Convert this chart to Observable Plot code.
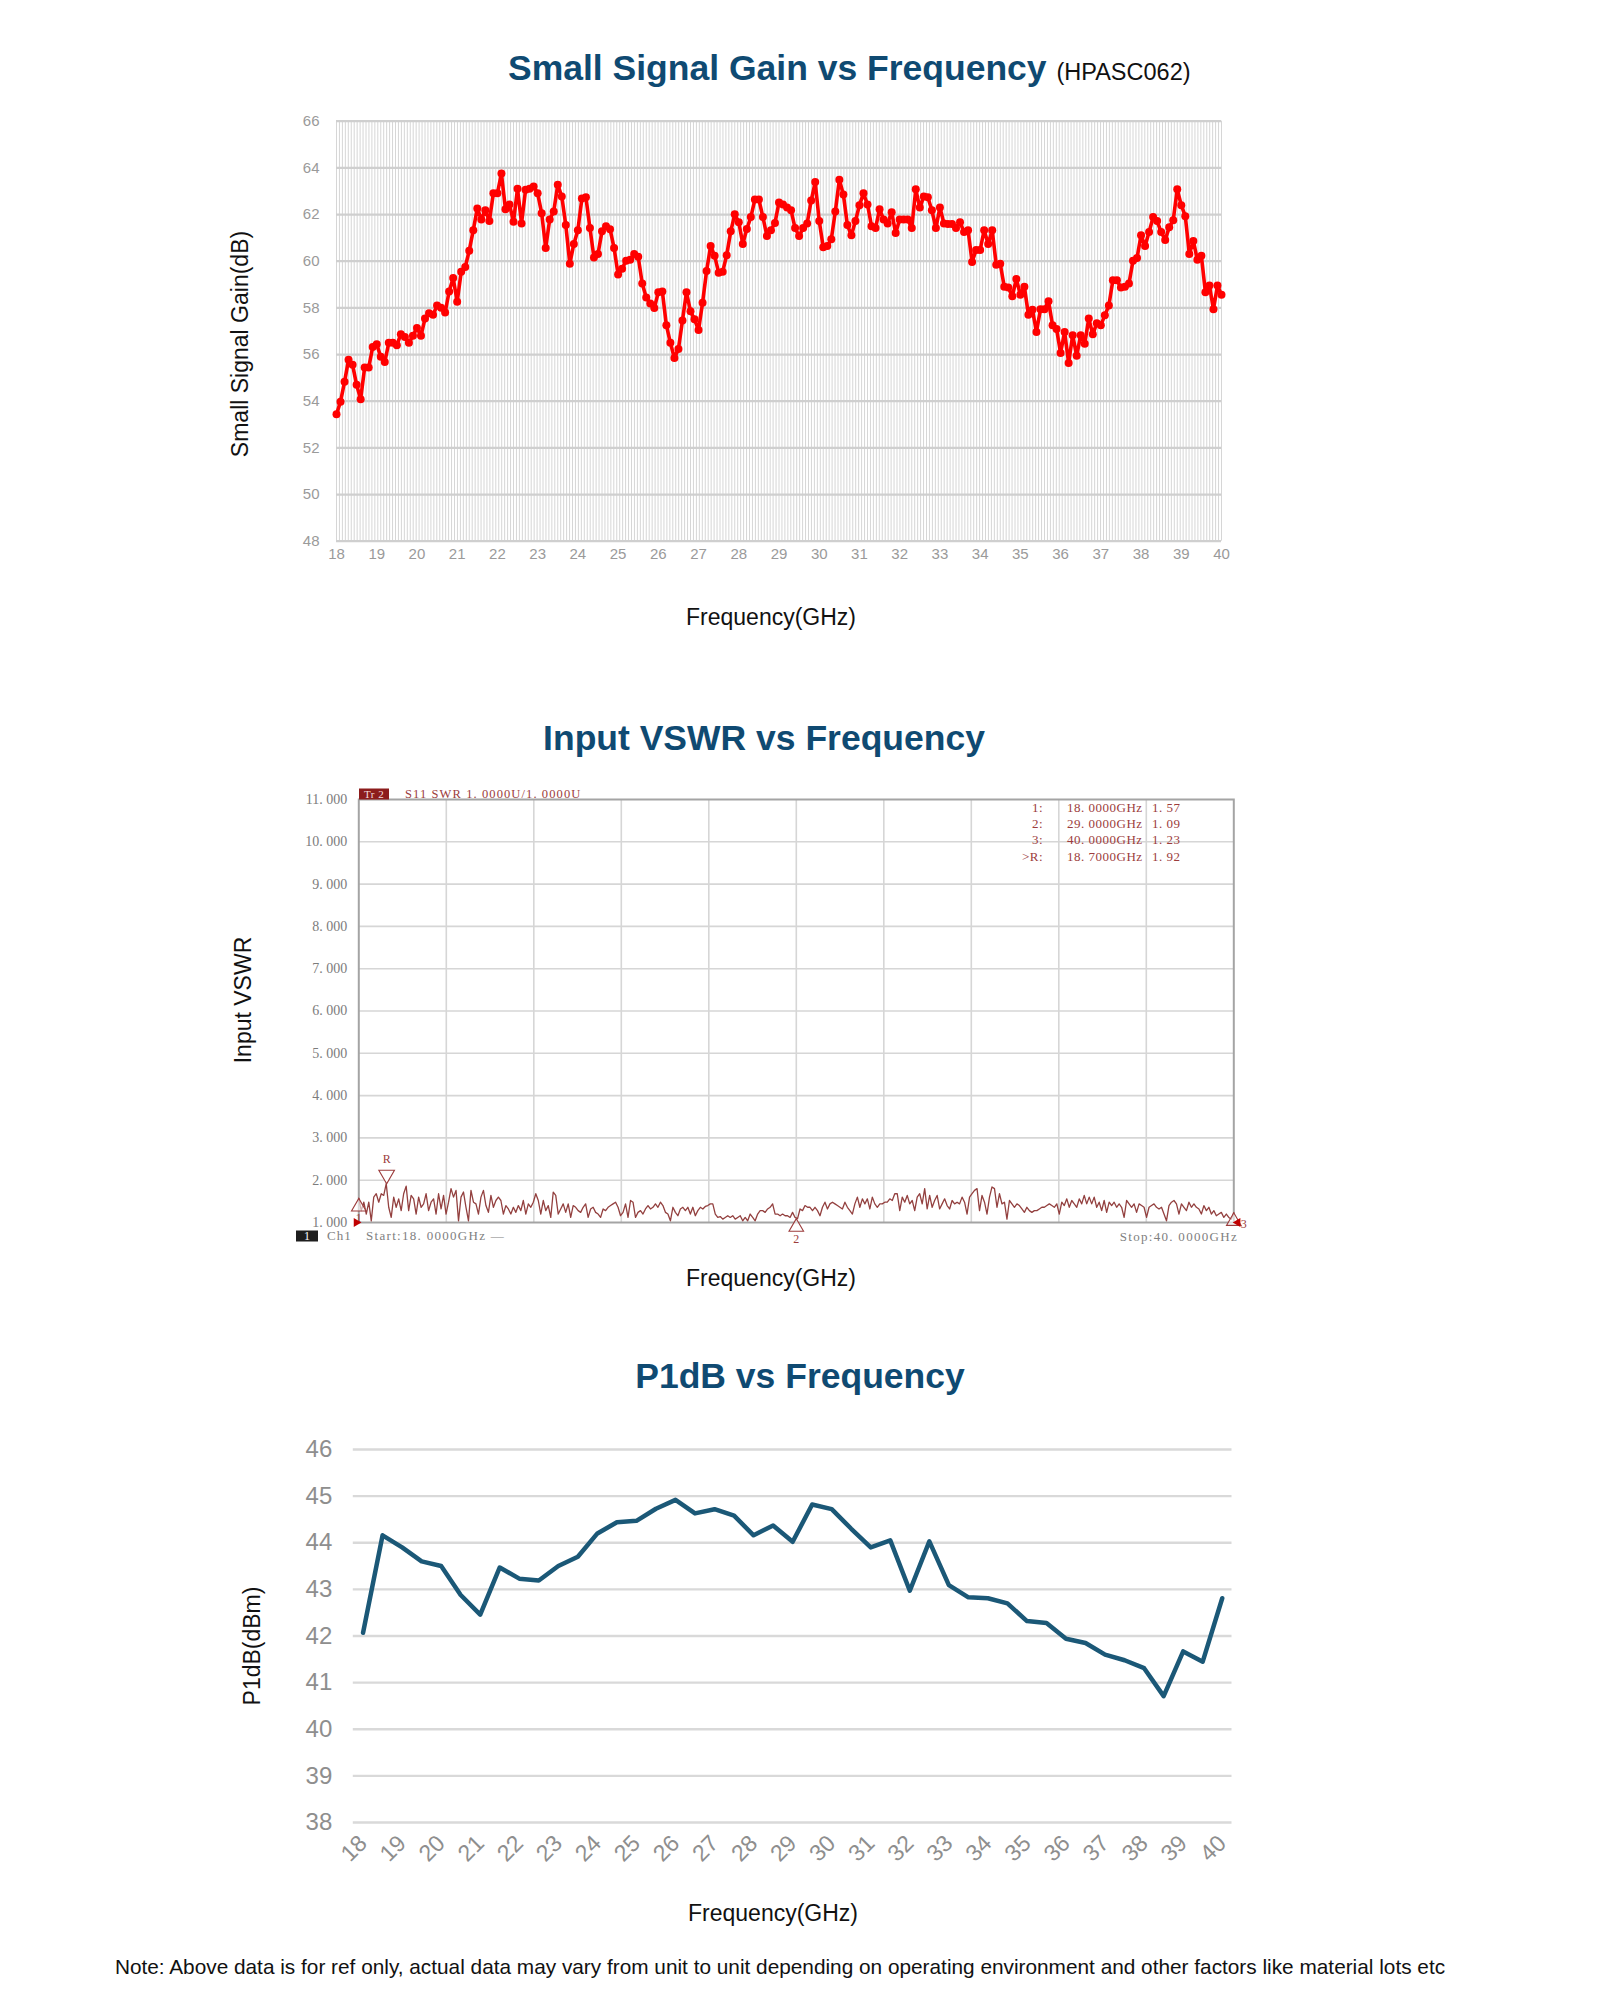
<!DOCTYPE html>
<html>
<head>
<meta charset="utf-8">
<script src="https://cdn.jsdelivr.net/npm/d3@7"></script>
<script src="https://cdn.jsdelivr.net/npm/@observablehq/plot@0.6"></script>
<style>
  body { margin: 0; background: #fff; }
  #page { position: relative; width: 1600px; height: 2000px; overflow: hidden; font-family: "Liberation Sans", Arial, sans-serif; background: #fff; }
  #page svg { position: absolute; left: 0; }
  .t { position: absolute; white-space: pre; line-height: 1.15; }
  .title { font-weight: bold; font-size: 35.5px; color: #0f4a72; }
  .axlab { font-size: 23px; color: #111; }
  .inst { font-family: "Liberation Serif", "DejaVu Serif", serif; font-size: 13px; letter-spacing: 0.5px; }
</style>
</head>
<body>
<div id="page"></div>
<script>
// ---------------- DATA ----------------
// Small signal gain (dB), sweep 18 -> 40 GHz in 0.1 GHz steps
const gainStartGHz = 18;
const gainStepGHz = 0.1;
const gainDb = [
  53.44,53.98,54.83,55.78,55.56,54.70,54.08,55.44,55.44,56.32,
  56.44,55.90,55.68,56.50,56.50,56.40,56.87,56.75,56.50,56.80,
  57.14,56.80,57.54,57.77,57.70,58.10,58.00,57.80,58.70,59.28,
  58.26,59.55,59.75,60.45,61.33,62.26,61.79,62.18,61.72,62.91,
  62.91,63.76,62.23,62.43,61.69,63.11,61.62,63.06,63.11,63.20,
  62.91,62.06,60.57,61.79,62.13,63.28,62.77,61.55,59.89,60.74,
  61.33,62.69,62.74,61.42,60.16,60.31,61.28,61.50,61.37,60.57,
  59.43,59.68,60.02,60.06,60.31,60.19,59.04,58.44,58.19,57.99,
  58.67,58.70,57.26,56.50,55.85,56.24,57.46,58.67,57.85,57.51,
  57.05,58.22,59.58,60.65,60.23,59.51,59.55,60.26,61.28,62.01,
  61.67,60.74,61.38,61.89,62.64,62.64,61.89,61.08,61.33,61.64,
  62.52,62.43,62.30,62.18,61.42,61.08,61.42,61.62,62.60,63.39,
  61.72,60.60,60.65,60.94,62.13,63.49,62.86,61.55,61.11,61.72,
  62.40,62.91,62.43,61.50,61.42,62.23,61.79,61.62,62.10,61.21,
  61.79,61.79,61.79,61.42,63.08,62.30,62.77,62.74,62.18,61.42,
  62.30,61.62,61.59,61.59,61.42,61.67,61.25,61.33,59.97,60.48,
  60.48,61.33,60.74,61.33,59.85,59.89,58.90,58.87,58.50,59.24,
  58.56,58.90,57.71,57.92,56.97,57.94,57.94,58.28,57.26,57.09,
  56.07,56.97,55.64,56.83,55.95,56.83,56.46,57.54,56.87,57.34,
  57.26,57.68,58.10,59.18,59.18,58.87,58.90,59.04,60.02,60.14,
  61.11,60.65,61.25,61.89,61.72,61.25,60.91,61.45,61.76,63.08,
  62.40,61.93,60.31,60.87,60.06,60.23,58.67,58.96,57.94,58.96,
  58.56
];
const gainTicksX = [18,19,20,21,22,23,24,25,26,27,28,29,30,31,32,33,34,35,36,37,38,39,40];
const gainTicksY = [48,50,52,54,56,58,60,62,64,66];

// Input VSWR trace, linear sweep start/stop
const vswrStartGHz = 18;
const vswrStopGHz = 40;
const vswr = [
  1.57,1.28,1.48,1.20,1.48,1.04,1.60,1.68,1.48,1.68,
  1.64,1.92,1.36,1.12,1.60,1.36,1.56,1.28,1.68,1.86,
  1.28,1.64,1.56,1.20,1.60,1.36,1.44,1.68,1.28,1.48,
  1.56,1.20,1.68,1.32,1.64,1.20,1.48,1.80,1.60,1.76,
  1.04,1.60,1.72,1.36,1.04,1.76,1.48,1.44,1.20,1.60,
  1.76,1.40,1.24,1.64,1.36,1.52,1.60,1.52,1.20,1.40,
  1.32,1.20,1.36,1.24,1.40,1.28,1.52,1.20,1.44,1.36,
  1.48,1.68,1.52,1.20,1.52,1.28,1.40,1.12,1.72,1.64,
  1.20,1.32,1.44,1.24,1.44,1.12,1.40,1.36,1.28,1.24,
  1.36,1.44,1.12,1.32,1.36,1.24,1.20,1.12,1.32,1.28,
  1.36,1.40,1.44,1.48,1.36,1.16,1.24,1.44,1.12,1.52,
  1.48,1.12,1.24,1.28,1.20,1.32,1.40,1.32,1.36,
  1.44,1.36,1.48,1.40,1.24,1.20,1.04,1.36,1.24,1.16,
  1.32,1.36,1.28,1.36,1.20,1.36,1.16,1.28,1.36,1.32,
  1.38,1.40,1.44,1.44,1.20,1.12,1.14,1.08,1.12,1.16,
  1.12,1.16,1.08,1.12,1.16,1.04,1.12,1.04,1.20,1.12,
  1.04,1.20,1.28,1.28,1.24,1.32,1.36,1.44,1.20,1.20,
  1.16,1.20,1.16,1.16,1.12,1.24,1.12,1.09,
  1.32,1.28,1.40,1.36,1.36,1.28,1.36,1.28,1.16,1.36,
  1.48,1.32,1.44,1.48,1.44,1.40,1.36,1.32,1.48,1.36,
  1.28,1.20,1.44,1.60,1.36,1.56,1.44,1.56,1.32,1.60,
  1.44,1.36,1.44,1.44,1.48,1.48,1.56,1.52,1.68,1.68,
  1.28,1.60,1.48,1.64,1.44,1.52,1.28,1.60,1.68,1.44,
  1.80,1.32,1.64,1.36,1.52,1.64,1.32,1.44,1.56,1.40,
  1.32,
  1.52,1.44,1.48,1.44,1.60,1.48,1.20,1.60,1.68,1.76,
  1.80,1.28,1.64,1.48,1.20,1.60,1.84,1.80,1.36,1.68,
  1.44,1.48,1.08,1.52,1.44,1.36,1.44,1.40,1.32,1.24,
  1.36,1.28,1.24,1.28,1.28,1.32,1.36,1.36,1.40,1.44,
  1.40,1.36,1.44,1.20,1.48,1.40,1.56,1.36,1.52,1.44,
  1.36,1.56,1.44,1.64,1.44,1.60,1.44,1.60,1.36,1.48,
  1.28,1.52,1.24,1.48,1.40,1.48,1.36,1.44,1.36,1.12,
  1.52,1.44,1.36,1.44,1.24,1.44,1.40,1.36,1.12,1.36,
  1.40,1.44,1.36,1.32,1.36,1.20,1.04,1.40,1.48,1.52,
  1.44,1.20,1.44,1.36,1.28,1.48,1.36,1.44,1.36,1.32,
  1.20,1.40,1.28,1.36,1.20,1.28,1.16,1.20,1.24,1.12,
  1.20,1.12,1.08,1.23
];
const vswrMarkerIds = ["1", "2", "3", "R"];
const vswrMarkerGHz = [18.0, 29.0, 40.0, 18.7];
const vswrMarkerVal = [1.57, 1.09, 1.23, 1.92];
const vswrTicksY = [1,2,3,4,5,6,7,8,9,10,11];
const vswrDivisions = 10;
const vswrRefLevel = 1;

// P1dB (dBm) every 0.5 GHz
const p1dbGHz = [18,18.5,19,19.5,20,20.5,21,21.5,22,22.5,23,23.5,24,24.5,25,25.5,26,26.5,27,27.5,28,28.5,29,29.5,30,30.5,31,31.5,32,32.5,33,33.5,34,34.5,35,35.5,36,36.5,37,37.5,38,38.5,39,39.5,40];
const p1dbDbm = [42.07,44.16,43.90,43.60,43.50,42.88,42.46,43.47,43.23,43.19,43.50,43.70,44.20,44.44,44.47,44.73,44.92,44.63,44.72,44.58,44.16,44.37,44.02,44.82,44.72,44.30,43.90,44.05,42.97,44.03,43.09,42.83,42.81,42.70,42.32,42.28,41.94,41.85,41.60,41.48,41.31,40.71,41.67,41.45,42.81];
const p1dbTicksX = [18,19,20,21,22,23,24,25,26,27,28,29,30,31,32,33,34,35,36,37,38,39,40];
const p1dbTicksY = [38,39,40,41,42,43,44,45,46];

// ---------------- HELPERS ----------------
const page = document.getElementById("page");
function addText(html, x, y, cls, opts = {}) {
  const d = document.createElement("div");
  d.className = "t " + (cls || "");
  d.innerHTML = html;
  d.style.left = x + "px";
  d.style.top = y + "px";
  const ax = opts.anchor === "start" ? "0" : opts.anchor === "end" ? "-100%" : "-50%";
  d.style.transform = `translate(${ax}, -50%)` + (opts.rotate ? ` rotate(${opts.rotate}deg)` : "");
  if (opts.style) Object.assign(d.style, opts.style);
  page.appendChild(d);
  return d;
}
function place(svg, top) {
  svg.style.top = top + "px";
  page.appendChild(svg);
}
// instrument-style number: gap after the decimal point, as on the analyzer screen
const inst = (v, n) => v.toFixed(n).replace(".", ". ");

// ---------------- CHART 1: Small signal gain ----------------
const gain = gainDb.map((v, i) => ({f: gainStartGHz + i * gainStepGHz, v}));
const minorGrid = d3.range(0, 301).map(i => 18 + i * 22 / 300);
{
  const top = 100, H = 480;
  const svg = Plot.plot({
    width: 1600, height: H,
    marginLeft: 336, marginRight: 379, marginTop: 20.7, marginBottom: 39.3,
    x: {domain: [18, 40], axis: null},
    y: {domain: [48, 66], axis: null},
    style: {fontFamily: "Liberation Sans, Arial, sans-serif", color: "#9a9a9a", background: "transparent", overflow: "visible"},
    marks: [
      Plot.ruleX(minorGrid, {stroke: "#d6d6d6", strokeWidth: 1}),
      Plot.gridY(gainTicksY, {stroke: "#cfcfcf", strokeWidth: 2.2, strokeOpacity: 1}),
      Plot.axisY(gainTicksY, {tickSize: 0, tickPadding: 17, fontSize: 15, label: null}),
      Plot.axisX(gainTicksX, {tickSize: 0, tickPadding: 7, fontSize: 15, label: null}),
      Plot.line(gain, {x: "f", y: "v", stroke: "#ff0000", strokeWidth: 3.6, strokeLinejoin: "round"}),
      Plot.dot(gain, {x: "f", y: "v", r: 4, fill: "#ff0000", stroke: "none"})
    ]
  });
  place(svg, top);
  addText('Small Signal Gain vs Frequency <span style="font-weight:normal;font-size:23.5px;color:#111;">(HPASC062)</span>', 508, 68, "title", {anchor: "start"});
  addText("Small Signal Gain(dB)", 240, 344, "axlab", {rotate: -90});
  addText("Frequency(GHz)", 771, 617, "axlab");
}

// ---------------- CHART 2: Input VSWR ----------------
const vswrStep = (vswrStopGHz - vswrStartGHz) / (vswr.length - 1);
const vswrData = vswr.map((v, i) => ({f: vswrStartGHz + i * vswrStep, v}));
const vswrMarkers = vswrMarkerIds.map((id, i) => ({id, f: vswrMarkerGHz[i], v: vswrMarkerVal[i]}));
const vswrGridX = d3.range(1, vswrDivisions).map(k => vswrStartGHz + k * (vswrStopGHz - vswrStartGHz) / vswrDivisions);
{
  const top = 760, H = 520;
  const mc = "#9c3c3c";
  const below = vswrMarkers.filter(d => d.id === "1" || d.id === "2");
  const edge = vswrMarkers.filter(d => d.id === "3");
  const ref = vswrMarkers.filter(d => d.id === "R");
  const svg = Plot.plot({
    width: 1600, height: H,
    marginLeft: 358.3, marginRight: 366.7, marginTop: 39, marginBottom: 58,
    x: {domain: [18, 40], axis: null},
    y: {domain: [1, 11], axis: null},
    style: {fontFamily: "Liberation Serif, DejaVu Serif, serif", color: "#7c7c7c", background: "transparent", overflow: "visible"},
    marks: [
      Plot.ruleX(vswrGridX, {stroke: "#d6d6d6", strokeWidth: 1.6}),
      Plot.ruleY(vswrTicksY.slice(1, -1), {stroke: "#d6d6d6", strokeWidth: 1.6}),
      Plot.frame({stroke: "#a4a4a4", strokeWidth: 2}),
      Plot.axisY(vswrTicksY, {tickSize: 0, tickPadding: 11.5, fontSize: 14, label: null, tickFormat: d => inst(d, 3)}),
      Plot.line(vswrData, {x: "f", y: "v", stroke: "#93403f", strokeWidth: 1.3, strokeLinejoin: "round"}),
      // up triangles below markers 1,2,3
      Plot.dot([...below, ...edge], {x: "f", y: "v", symbol: "triangle", r: 5.4, dy: 8.4, fill: "white", fillOpacity: 0.6, stroke: mc, strokeWidth: 1.1}),
      Plot.text(below, {x: "f", y: "v", text: "id", dy: 20, fill: mc, fontSize: 12}),
      Plot.text(edge, {x: "f", y: "v", text: "id", dy: 11, dx: 10, fill: mc, fontSize: 12}),
      // reference marker: down triangle above
      Plot.dot(ref, {x: "f", y: "v", symbol: "triangle", rotate: 180, r: 5.8, dy: -8.8, fill: "white", stroke: mc, strokeWidth: 1.1}),
      Plot.text(ref, {x: "f", y: "v", text: "id", dy: -24, fill: mc, fontSize: 12}),
      // reference level pointers on both edges
      Plot.dot([{f: vswrStartGHz, v: vswrRefLevel}], {x: "f", y: "v", symbol: "triangle", rotate: 90, dx: -2.5, r: 3.3, fill: "#c00000", stroke: "none"}),
      Plot.dot([{f: vswrStopGHz, v: vswrRefLevel}], {x: "f", y: "v", symbol: "triangle", rotate: -90, dx: 4, r: 3.3, fill: "#c00000", stroke: "none"})
    ]
  });
  place(svg, top);

  // header
  addText("Tr 2", 359, 793.5, "inst", {anchor: "start", style: {background: "#8c1c1c", color: "#f3dede", fontSize: "11px", lineHeight: "11px", padding: "0 5px", letterSpacing: "0.5px"}});
  addText("S11 SWR " + inst(1, 4) + "U/" + inst(1, 4) + "U", 405, 793.5, "inst", {anchor: "start", style: {color: mc, fontSize: "12.5px", letterSpacing: "1.1px"}});
  // marker table
  const order = ["1", "2", "3", "R"];
  const rowsY = [808.3, 824.3, 840.3, 856.5];
  order.forEach((id, i) => {
    const m = vswrMarkers.find(d => d.id === id);
    addText((id === "R" ? "&gt;R" : id) + ":", 1043, rowsY[i], "inst", {anchor: "end", style: {color: mc}});
    addText(inst(m.f, 4) + "GHz", 1067, rowsY[i], "inst", {anchor: "start", style: {color: mc}});
    addText(inst(m.v, 2), 1152, rowsY[i], "inst", {anchor: "start", style: {color: mc}});
  });
  // footer
  addText("1", 296, 1236, "inst", {anchor: "start", style: {background: "#1e1e1e", color: "#fff", fontSize: "12px", lineHeight: "11px", padding: "0 8px", letterSpacing: "0"}});
  addText("Ch1", 327, 1236, "inst", {anchor: "start", style: {color: "#808080", letterSpacing: "1px"}});
  addText("Start:" + inst(vswrStartGHz, 4) + "GHz —", 366, 1236, "inst", {anchor: "start", style: {color: "#808080", letterSpacing: "1.3px"}});
  addText("Stop:" + inst(vswrStopGHz, 4) + "GHz", 1238, 1237, "inst", {anchor: "end", style: {color: "#808080", letterSpacing: "1.3px"}});

  addText("Input VSWR vs Frequency", 764, 738, "title");
  addText("Input VSWR", 243, 1000, "axlab", {rotate: -90});
  addText("Frequency(GHz)", 771, 1278, "axlab");
}

// ---------------- CHART 3: P1dB ----------------
const p1db = p1dbGHz.map((f, i) => ({f, v: p1dbDbm[i]}));
{
  const top = 1420, H = 500;
  const svg = Plot.plot({
    width: 1600, height: H,
    marginLeft: 352.8, marginRight: 368.5, marginTop: 29, marginBottom: 98,
    x: {domain: [17.75, 40.25], axis: null},
    y: {domain: [38, 46], axis: null},
    style: {fontFamily: "Liberation Sans, Arial, sans-serif", color: "#8e8e8e", background: "transparent", overflow: "visible"},
    marks: [
      Plot.gridY(p1dbTicksY, {stroke: "#d9d9d9", strokeWidth: 2.4, strokeOpacity: 1}),
      Plot.axisY(p1dbTicksY, {tickSize: 0, tickPadding: 21, fontSize: 24, label: null}),
      Plot.axisX(p1dbTicksX, {tickSize: 0, tickPadding: 17, fontSize: 23, tickRotate: -45, label: null}),
      Plot.line(p1db, {x: "f", y: "v", stroke: "#1b5877", strokeWidth: 4.5, strokeLinejoin: "round", strokeLinecap: "round"})
    ]
  });
  place(svg, top);
  addText("P1dB vs Frequency", 800, 1376, "title");
  addText("P1dB(dBm)", 252, 1646, "axlab", {rotate: -90});
  addText("Frequency(GHz)", 773, 1913, "axlab");
}

addText("Note: Above data is for ref only, actual data may vary from unit to unit depending on operating environment and other factors like material lots etc", 780, 1967, "", {style: {fontSize: "20.8px", color: "#111"}});
</script>
</body>
</html>
